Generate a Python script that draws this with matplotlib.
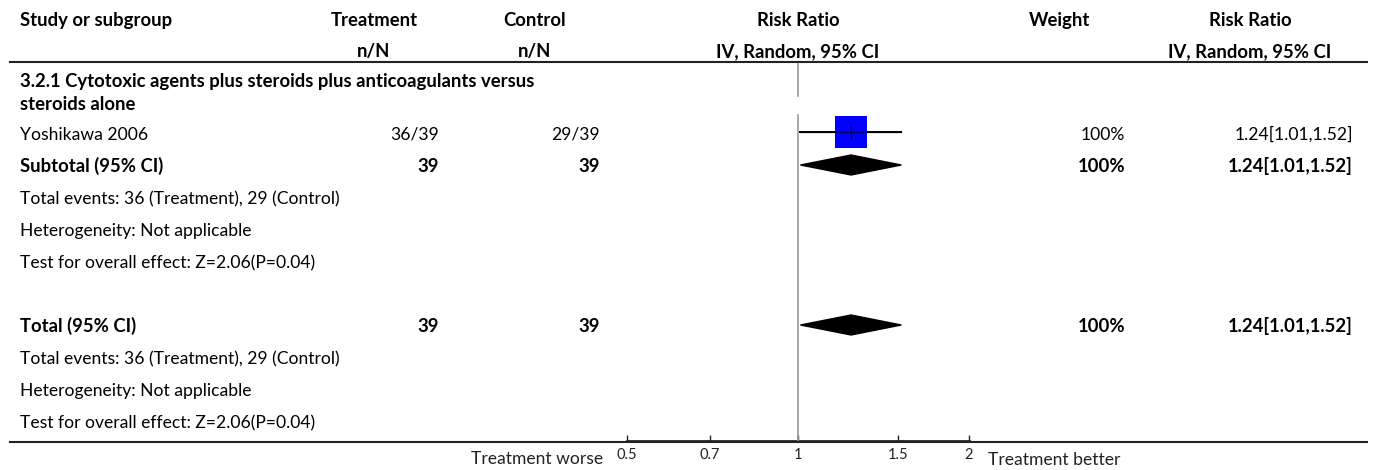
import numpy as np
import matplotlib
matplotlib.use("Agg")
import matplotlib.pyplot as plt
from matplotlib.patches import Polygon

plt.rcParams['font.family'] = ['Lato', 'DejaVu Sans']

# data
header1 = ["Study or subgroup", "Treatment", "Control", "Risk Ratio", "Weight", "Risk Ratio"]
header2 = ["", "n/N", "n/N", "IV, Random, 95% CI", "", "IV, Random, 95% CI"]
subgroup_title = ["3.2.1 Cytotoxic agents plus steroids plus anticoagulants versus", "steroids alone"]

study_names = ["Yoshikawa 2006"]
treat_nN = ["36/39"]
ctrl_nN = ["29/39"]
study_rr = [1.24]
study_lo = [1.01]
study_hi = [1.52]
study_weight = ["100%"]

sub_treat_N = 39
sub_ctrl_N = 39
sub_rr, sub_lo, sub_hi = 1.24, 1.01, 1.52
sub_weight = "100%"
sub_notes = ["Total events: 36 (Treatment), 29 (Control)",
             "Heterogeneity: Not applicable",
             "Test for overall effect: Z=2.06(P=0.04)"]

tot_treat_N = 39
tot_ctrl_N = 39
tot_rr, tot_lo, tot_hi = 1.24, 1.01, 1.52
tot_weight = "100%"
tot_notes = ["Total events: 36 (Treatment), 29 (Control)",
             "Heterogeneity: Not applicable",
             "Test for overall effect: Z=2.06(P=0.04)"]

ticks = [0.5, 0.7, 1, 1.5, 2]
tick_labels = ["0.5", "0.7", "1", "1.5", "2"]
left_label = "Treatment worse"
right_label = "Treatment better"

def fmt_ci(rr, lo, hi):
    return f"{rr:.2f}[{lo:.2f},{hi:.2f}]"

W, H = 1375, 470
fig = plt.figure(figsize=(W / 100, H / 100), dpi=100)

# text layer in pixel coordinates
ax = fig.add_axes([0, 0, 1, 1])
ax.set_xlim(0, W)
ax.set_ylim(H, 0)
ax.axis('off')

# forest layer: log x, same pixel rows
x0, x1 = 627, 969
y_top, y_bot = 0, 441
fax = fig.add_axes([x0 / W, (H - y_bot) / H, (x1 - x0) / W, (y_bot - y_top) / H])
fax.set_xscale('log')
fax.set_xlim(0.5, 2)
fax.set_ylim(y_bot, y_top)
fax.patch.set_alpha(0)
for s in ['top', 'left', 'right', 'bottom']:
    fax.spines[s].set_visible(False)
fax.set_yticks([])
fax.set_xticks(ticks)
fax.set_xticklabels(tick_labels)
fax.xaxis.set_minor_locator(matplotlib.ticker.NullLocator())
fax.tick_params(axis='x', direction='in', length=4.5, width=1, color='#222222',
                labelsize=10.5, pad=5, labelcolor='#222222')

FS = 12.6
FSB = 13.3
col_left = 20
col_treat_c, col_treat_r = 374, 439
col_ctrl_c, col_ctrl_r = 535, 600
col_plot_c = 798
col_w_c, col_w_r = 1060, 1125
col_rr_c, col_rr_r = 1250, 1353
txt = dict(fontsize=FS, color='black', va='baseline')
btxt = dict(fontsize=FSB, color='black', va='baseline', fontweight='bold')

# header
for x, s in zip([col_left, col_treat_c, col_ctrl_c, col_plot_c, col_w_c, col_rr_c], header1):
    ax.text(x, 26, s, ha='left' if x == col_left else 'center', **btxt)
for x, s in zip([col_left, col_treat_c, col_ctrl_c, col_plot_c, col_w_c, col_rr_c], header2):
    if s:
        ax.text(x, 57, s, ha='center', **btxt)
ax.plot([10, 1367], [62, 62], color='#222222', lw=1.5)

# subgroup title
ax.text(col_left, 87, subgroup_title[0], ha='left', **btxt)
ax.text(col_left, 110, subgroup_title[1], ha='left', **btxt)

# study rows
row = 140
for i, name in enumerate(study_names):
    ax.text(col_left, row, name, ha='left', **txt)
    ax.text(col_treat_r, row, treat_nN[i], ha='right', **txt)
    ax.text(col_ctrl_r, row, ctrl_nN[i], ha='right', **txt)
    ax.text(col_w_r, row, study_weight[i], ha='right', **txt)
    ax.text(col_rr_r, row, fmt_ci(study_rr[i], study_lo[i], study_hi[i]), ha='right', **txt)
    yc = row - 8.5
    fax.plot([study_lo[i], study_hi[i]], [yc, yc], color='black', lw=1.4, zorder=3)
    fax.plot([study_rr[i]], [yc], marker='s', markersize=22.5, color='#0000FF',
             markeredgewidth=0, zorder=4)
    fax.plot([study_rr[i], study_rr[i]], [yc - 6, yc + 6], color='black', lw=1, zorder=5)
    fax.plot([study_lo[i], study_hi[i]], [yc, yc], color='black', lw=1.0, zorder=5,
             alpha=0.6)
    row += 32

def diamond(rr, lo, hi, yc):
    fax.add_patch(Polygon([[lo, yc], [rr, yc - 10], [hi, yc], [rr, yc + 10]],
                          closed=True, color='black', zorder=4))

# subtotal
ax.text(col_left, row, "Subtotal (95% CI)", ha='left', **btxt)
ax.text(col_treat_r, row, str(sub_treat_N), ha='right', **btxt)
ax.text(col_ctrl_r, row, str(sub_ctrl_N), ha='right', **btxt)
ax.text(col_w_r, row, sub_weight, ha='right', **btxt)
ax.text(col_rr_r, row, fmt_ci(sub_rr, sub_lo, sub_hi), ha='right', **btxt)
diamond(sub_rr, sub_lo, sub_hi, row - 7)
row += 32
for s in sub_notes:
    ax.text(col_left, row, s, ha='left', **txt)
    row += 32

row += 32
# overall total
ax.text(col_left, row, "Total (95% CI)", ha='left', **btxt)
ax.text(col_treat_r, row, str(tot_treat_N), ha='right', **btxt)
ax.text(col_ctrl_r, row, str(tot_ctrl_N), ha='right', **btxt)
ax.text(col_w_r, row, tot_weight, ha='right', **btxt)
ax.text(col_rr_r, row, fmt_ci(tot_rr, tot_lo, tot_hi), ha='right', **btxt)
diamond(tot_rr, tot_lo, tot_hi, row - 7)
row += 32
for s in tot_notes:
    ax.text(col_left, row, s, ha='left', **txt)
    row += 32

# line of no effect
fax.plot([1, 1], [64, 96], color='#999999', lw=1.2, zorder=2)
fax.plot([1, 1], [115, 441], color='#999999', lw=1.2, zorder=2)

# bottom axis line
ax.plot([10, 1367], [441.5, 441.5], color='#222222', lw=1.5)
ax.plot([x0, x1], [441, 441], color='#222222', lw=2)
ax.text(603, 464, left_label, ha='right', fontsize=FS, color='#222222', va='baseline')
ax.text(988, 465, right_label, ha='left', fontsize=FS, color='#222222', va='baseline')

fig.savefig("out.png", dpi=100)
